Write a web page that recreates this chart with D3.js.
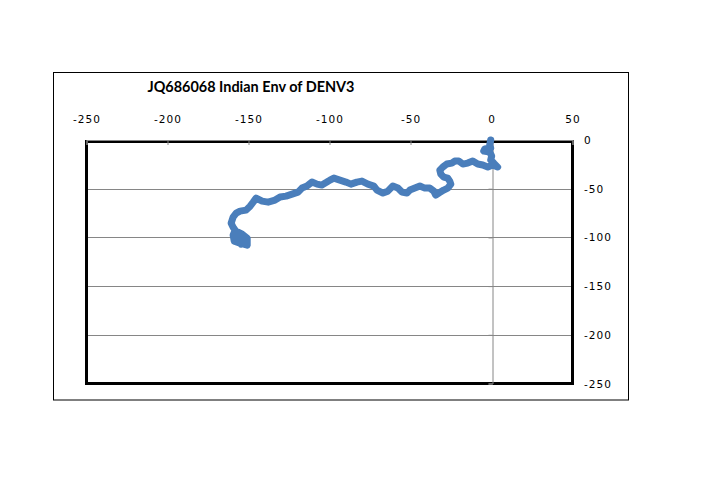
<!DOCTYPE html>
<html><head><meta charset="utf-8">
<script src="https://cdn.jsdelivr.net/npm/d3@7"></script>
<style>body{margin:0;background:#fff;} svg{display:block;}</style>
</head><body>
<svg id="c" width="724" height="480"></svg>
<script>
const title = "JQ686068 Indian Env of DENV3";
const xTicks = [-250, -200, -150, -100, -50, 0, 50];
const yTicks = [0, -50, -100, -150, -200, -250];
const walkX = [-0.5,-1.1,-0.5,-4.2,-4.8,-1.1,0.1,-0.5,1.4,3.8,0.7,-2.3,-5.4,-8.5,-11.6,-14.7,-17.7,-20.2,-22.7,-24.5,-27.6,-30.1,-31.9,-31.3,-29.5,-27.0,-25.8,-25.1,-27.0,-29.5,-32.5,-34.4,-35.6,-38.1,-41.2,-44.2,-47.3,-50.4,-52.2,-55.3,-57.8,-60.9,-64.0,-67.0,-70.7,-72.6,-76.3,-80.0,-83.1,-86.8,-89.9,-93.6,-97.3,-99.7,-101.6,-104.7,-107.7,-110.8,-113.9,-117.0,-119.4,-123.1,-126.8,-130.5,-133.6,-137.9,-141.6,-145.3,-147.1,-149.0,-151.5,-155.2,-157.6,-159.5,-160.7,-159.5,-158.2,-159.5,-158.8,-155.2,-150.8,-150.8,-153.9,-156.4,-152.7,-157.0,-152.7,-156.4,-154.6];
const walkY = [0,-5.1,-8.2,-9.3,-11.3,-12.3,-16.5,-20.6,-23.7,-27.8,-25.7,-27.8,-25.7,-24.7,-21.6,-23.7,-24.7,-21.6,-21.6,-23.7,-24.7,-27.8,-30.9,-35.0,-38.1,-39.1,-42.2,-45.3,-49.4,-51.4,-54.5,-56.6,-52.5,-49.4,-49.4,-47.3,-49.4,-51.4,-54.5,-53.5,-49.4,-47.3,-52.5,-54.5,-51.4,-47.3,-45.3,-42.2,-43.2,-45.3,-43.2,-41.2,-39.1,-41.2,-43.2,-46.3,-45.3,-43.2,-47.3,-49.4,-53.5,-55.6,-57.6,-58.6,-61.7,-63.8,-62.8,-59.7,-63.8,-67.9,-72.0,-73.0,-75.1,-79.2,-85.4,-89.5,-92.6,-97.7,-103.9,-106.0,-108.0,-100.8,-96.7,-94.7,-98.8,-101.9,-103.9,-99.8,-107.0];

const svg = d3.select("#c");
const x = d3.scaleLinear().domain([-250, 50]).range([86.5, 572.5]);
const y = d3.scaleLinear().domain([0, -250]).range([140, 383.5]);
const fmt = d => String(d);

// outer frame
svg.append("rect").attr("x",53.5).attr("y",72.5).attr("width",575).attr("height",327.5)
  .attr("fill","#fff").attr("stroke","#000").attr("stroke-width",1);

// title
svg.append("text").attr("x",251).attr("y",92).attr("text-anchor","middle")
  .attr("font-family","Lato, 'Open Sans', sans-serif").attr("font-weight","bold")
  .attr("font-size",15).attr("textLength",207).attr("lengthAdjust","spacingAndGlyphs")
  .text(title);

// gridlines
svg.append("g").selectAll("line").data(yTicks.filter(d => d !== 0 && d !== -250)).join("line")
  .attr("x1",x(-250)).attr("x2",x(50)).attr("y1",d=>Math.round(y(d))+0.5).attr("y2",d=>Math.round(y(d))+0.5)
  .attr("stroke","#868686").attr("stroke-width",1);

// plot border
svg.append("rect").attr("x",x(-250)).attr("y",141.5).attr("width",x(50)-x(-250)).attr("height",383.5-141.5)
  .attr("fill","none").attr("stroke","#000").attr("stroke-width",3);

// x axis at y=0 (top)
const xAxis = d3.axisTop(x).tickValues(xTicks).tickSize(-5).tickPadding(0).tickFormat(fmt);
const gx = svg.append("g").attr("transform",`translate(0,${y(0)})`).call(xAxis);
gx.select(".domain").attr("stroke","#868686");
gx.selectAll(".tick line").attr("stroke","#868686");
gx.selectAll(".tick text").attr("y",-17).attr("font-family","'DejaVu Sans', Verdana, sans-serif")
  .attr("font-size",10.5).attr("letter-spacing","1").attr("fill","#000");

// y axis at x=0, labels to the right of plot
const yAxis = d3.axisLeft(y).tickValues(yTicks).tickSize(4).tickFormat("");
const gy = svg.append("g").attr("transform",`translate(${Math.round(x(0))+0.5},0)`).call(yAxis);
gy.select(".domain").attr("stroke","#868686");
gy.selectAll(".tick line").attr("stroke","#868686");
svg.append("g").selectAll("text").data(yTicks).join("text")
  .attr("x",584).attr("y",d=>y(d)+4).attr("font-family","'DejaVu Sans', Verdana, sans-serif")
  .attr("font-size",10.5).attr("letter-spacing","1").attr("fill","#000").text(fmt);

// walk
const pts = walkX.map((v,i)=>[v, walkY[i]]);
const line = d3.line().x(d=>x(d[0])).y(d=>y(d[1])).curve(d3.curveLinear);
svg.append("path").datum(pts).attr("d",line).attr("fill","none")
  .attr("stroke","#4a7ebb").attr("stroke-width",7).attr("stroke-linejoin","round").attr("stroke-linecap","round");
</script>
</body></html>
